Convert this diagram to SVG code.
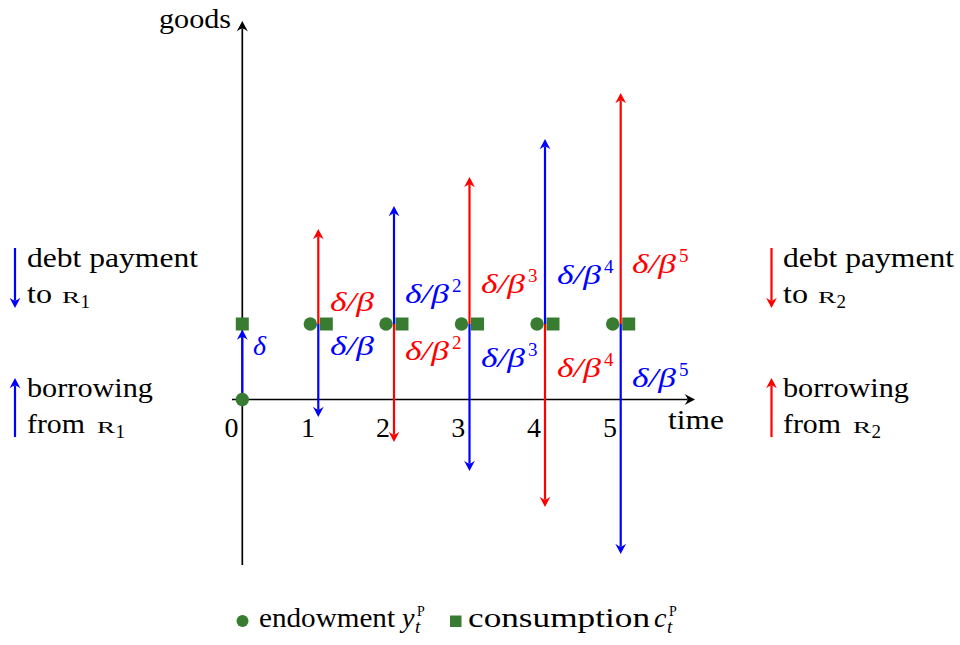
<svg xmlns="http://www.w3.org/2000/svg" width="960" height="645" viewBox="0 0 960 645">
<style>
text{font-family:"Liberation Serif","Times New Roman",serif;font-size:28px;fill:#000}
.m{font-style:italic}
.sup{font-size:19px;font-style:normal}
.sc{font-size:17px}
.tiny{font-size:14px}
.sub{font-size:19px}
.b{fill:#0000ff}
.r{fill:#ff0000}
.lb{stroke:#0000ff;stroke-width:2.2;fill:none;marker-end:url(#ahb)}
.lr{stroke:#ff0000;stroke-width:2.2;fill:none;marker-end:url(#ahr)}
.ax{stroke:#000;stroke-width:1.7;fill:none}
.g{fill:#387c32}
</style>
<defs>
<marker id="ahb" viewBox="-4 -7 13 14" refX="0" refY="0" markerWidth="13" markerHeight="14" markerUnits="userSpaceOnUse" orient="auto"><path d="M7.5,0 L-2.8,-5.4 Q0,-1.8 0,0 Q0,1.8 -2.8,5.4 Z" fill="#0000ff"/></marker>
<marker id="ahr" viewBox="-4 -7 13 14" refX="0" refY="0" markerWidth="13" markerHeight="14" markerUnits="userSpaceOnUse" orient="auto"><path d="M7.5,0 L-2.8,-5.4 Q0,-1.8 0,0 Q0,1.8 -2.8,5.4 Z" fill="#ff0000"/></marker>
<marker id="ahk" viewBox="-4 -7 13 14" refX="0" refY="0" markerWidth="13" markerHeight="14" markerUnits="userSpaceOnUse" orient="auto"><path d="M7.5,0 L-3,-5.6 Q0,-1.8 0,0 Q0,1.8 -3,5.6 Z" fill="#000"/></marker>
</defs>

<g id="axes">
<line class="ax" x1="242.3" y1="565" x2="242.3" y2="28.5" marker-end="url(#ahk)"/>
<line class="ax" x1="232" y1="399.5" x2="687.5" y2="399.5" marker-end="url(#ahk)"/>
<text x="159" y="28" textLength="72" lengthAdjust="spacingAndGlyphs">goods</text>
<text x="668" y="429" textLength="56" lengthAdjust="spacingAndGlyphs">time</text>
<text x="231.5" y="437" text-anchor="middle">0</text>
<text x="308" y="437" text-anchor="middle">1</text>
<text x="383" y="437" text-anchor="middle">2</text>
<text x="458.3" y="437" text-anchor="middle">3</text>
<text x="534" y="437" text-anchor="middle">4</text>
<text x="610" y="437" text-anchor="middle">5</text>
</g>

<g id="connectors">
<line class="lb" x1="242.3" y1="399.5" x2="242.3" y2="337"/>
<line class="lr" x1="318.3" y1="324" x2="318.3" y2="236.5"/>
<line class="lb" x1="318.3" y1="324" x2="318.3" y2="409.5"/>
<line class="lb" x1="394" y1="324" x2="394" y2="213.5"/>
<line class="lr" x1="394" y1="324" x2="394" y2="434.5"/>
<line class="lr" x1="469.5" y1="324" x2="469.5" y2="184.5"/>
<line class="lb" x1="469.5" y1="324" x2="469.5" y2="463.5"/>
<line class="lb" x1="545" y1="324" x2="545" y2="146.5"/>
<line class="lr" x1="545" y1="324" x2="545" y2="499.5"/>
<line class="lr" x1="620.7" y1="324" x2="620.7" y2="100.5"/>
<line class="lb" x1="620.7" y1="324" x2="620.7" y2="546.5"/>
</g>

<g id="labels">
<text class="m b" x="253" y="355">δ</text>
<text class="m r" x="330" y="311" textLength="44" lengthAdjust="spacingAndGlyphs">δ/β</text>
<text class="m b" x="330" y="355" textLength="44" lengthAdjust="spacingAndGlyphs">δ/β</text>
<text class="m b" x="405" y="302.7" textLength="44" lengthAdjust="spacingAndGlyphs">δ/β</text>
<text class="sup b" x="452" y="291.7">2</text>
<text class="m r" x="405" y="360" textLength="44" lengthAdjust="spacingAndGlyphs">δ/β</text>
<text class="sup r" x="452" y="349">2</text>
<text class="m r" x="481" y="293" textLength="44" lengthAdjust="spacingAndGlyphs">δ/β</text>
<text class="sup r" x="528" y="282">3</text>
<text class="m b" x="481" y="367" textLength="44" lengthAdjust="spacingAndGlyphs">δ/β</text>
<text class="sup b" x="528" y="356">3</text>
<text class="m b" x="557" y="284" textLength="44" lengthAdjust="spacingAndGlyphs">δ/β</text>
<text class="sup b" x="604" y="273">4</text>
<text class="m r" x="557" y="377" textLength="44" lengthAdjust="spacingAndGlyphs">δ/β</text>
<text class="sup r" x="604" y="366">4</text>
<text class="m r" x="632" y="273" textLength="44" lengthAdjust="spacingAndGlyphs">δ/β</text>
<text class="sup r" x="679" y="262">5</text>
<text class="m b" x="632" y="387" textLength="44" lengthAdjust="spacingAndGlyphs">δ/β</text>
<text class="sup b" x="679" y="376">5</text>
</g>

<g id="points">
<circle class="g" cx="242.3" cy="399.5" r="6.7"/>
<rect class="g" x="235.8" y="317.5" width="13" height="13"/>
<circle class="g" cx="310.3" cy="324" r="6.7"/>
<rect class="g" x="319.8" y="317.5" width="13" height="13"/>
<circle class="g" cx="386" cy="324" r="6.7"/>
<rect class="g" x="395.5" y="317.5" width="13" height="13"/>
<circle class="g" cx="461.5" cy="324" r="6.7"/>
<rect class="g" x="471" y="317.5" width="13" height="13"/>
<circle class="g" cx="537" cy="324" r="6.7"/>
<rect class="g" x="546.5" y="317.5" width="13" height="13"/>
<circle class="g" cx="612.7" cy="324" r="6.7"/>
<rect class="g" x="622.2" y="317.5" width="13" height="13"/>
</g>

<g id="legend-r1">
<line class="lb" x1="15" y1="248" x2="15" y2="300.5"/>
<text x="27" y="267" textLength="171" lengthAdjust="spacingAndGlyphs">debt payment</text>
<text x="27" y="303" textLength="25" lengthAdjust="spacingAndGlyphs">to</text>
<text class="sc" x="62" y="303" textLength="18" lengthAdjust="spacingAndGlyphs">R</text>
<text class="sub" x="80.5" y="308">1</text>
<line class="lb" x1="15" y1="437" x2="15" y2="385.5"/>
<text x="27" y="397" textLength="126" lengthAdjust="spacingAndGlyphs">borrowing</text>
<text x="27" y="433" textLength="58" lengthAdjust="spacingAndGlyphs">from</text>
<text class="sc" x="97" y="433" textLength="18" lengthAdjust="spacingAndGlyphs">R</text>
<text class="sub" x="115.5" y="438">1</text>
</g>

<g id="legend-r2">
<line class="lr" x1="771.5" y1="248" x2="771.5" y2="300.5"/>
<text x="783" y="267" textLength="171" lengthAdjust="spacingAndGlyphs">debt payment</text>
<text x="783" y="303" textLength="25" lengthAdjust="spacingAndGlyphs">to</text>
<text class="sc" x="818" y="303" textLength="18" lengthAdjust="spacingAndGlyphs">R</text>
<text class="sub" x="836.5" y="308">2</text>
<line class="lr" x1="771.5" y1="437" x2="771.5" y2="385.5"/>
<text x="783" y="397" textLength="126" lengthAdjust="spacingAndGlyphs">borrowing</text>
<text x="783" y="433" textLength="58" lengthAdjust="spacingAndGlyphs">from</text>
<text class="sc" x="853" y="433" textLength="18" lengthAdjust="spacingAndGlyphs">R</text>
<text class="sub" x="871.5" y="438">2</text>
</g>

<g id="legend-bottom">
<circle class="g" cx="242.5" cy="621" r="6"/>
<text x="259" y="627" textLength="136" lengthAdjust="spacingAndGlyphs">endowment</text>
<text class="m" x="402" y="627">y</text>
<text class="tiny" x="417" y="616">P</text>
<text class="m sub" x="415" y="633">t</text>
<rect class="g" x="450" y="615.5" width="11.5" height="11.5"/>
<text x="468" y="627" textLength="182" lengthAdjust="spacingAndGlyphs">consumption</text>
<text class="m" x="654" y="627">c</text>
<text class="tiny" x="669" y="616">P</text>
<text class="m sub" x="667" y="633">t</text>
</g>
</svg>
